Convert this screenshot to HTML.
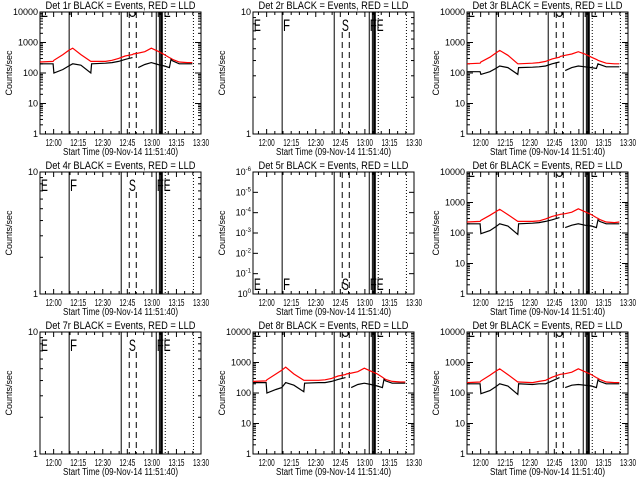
<!DOCTYPE html>
<html><head><meta charset="utf-8">
<style>
html,body{margin:0;padding:0;background:#fff;}
svg{display:block;font-family:"Liberation Sans",sans-serif;}
</style></head>
<body>
<svg id="chart" width="640" height="480" viewBox="0 0 640 480" xmlns="http://www.w3.org/2000/svg"></svg>
<script>
// ---- data (minutes after 11:51:40) ----
const times = [0,8,8.5,14,17.5,20,25,31,31.5,40,44,48,52,56.5,57,60,64,68,72,76,79,80,81,85,90,93];
const red1 = [230,240,260,400,550,650,400,240,240,240,260,300,360,400,420,450,500,650,520,400,320,300,280,230,220,220];
const black1 = [200,200,100,130,170,200,180,100,200,210,220,240,280,320,null,150,190,220,190,170,150,280,250,200,200,200];
const red3 = [200,210,230,330,450,550,380,200,200,210,220,240,290,330,350,380,420,500,420,330,280,260,250,210,200,200];
const black3 = [110,110,90,110,140,170,150,90,150,155,160,170,200,230,null,120,150,170,160,150,140,200,190,160,160,160];
const red6 = [230,240,260,380,500,600,400,240,240,240,250,290,350,400,410,430,480,620,500,400,320,300,280,230,220,230];
const black6 = [200,200,95,120,160,200,170,90,200,210,220,240,270,320,null,150,180,200,180,170,150,270,240,200,200,200];
const red8 = [240,250,270,420,560,700,420,260,260,260,270,300,360,400,420,450,500,650,520,420,330,300,280,240,230,230];
const black8 = [220,220,100,130,150,220,180,110,210,220,220,240,280,320,null,150,190,210,190,170,150,280,250,210,210,210];
const red9 = [220,230,250,380,520,620,400,230,230,220,240,260,330,400,410,430,480,620,500,400,320,300,280,230,220,220];
const black9 = [200,200,95,120,160,200,170,90,200,190,200,200,250,320,null,150,180,190,180,170,150,270,240,200,200,200];
const xTickLabels = ["12:00","12:15","12:30","12:45","13:00","13:15","13:30"];
const xTickMinutes = [8.33,23.33,38.33,53.33,68.33,83.33,98.33];
const solidLines = [17.8,49.6,71,72.9,74.7];
const thickLines = [74];
const dashedLines = [54.5,58.8];
const dottedLines = [76.5,93.7];
const letterNames = ["E","F","S","F","E"];
const letterMinutes = [0.5,18.3,54.3,71.3,75.5];
const detNames = ["1r","2r","3r","4r","5r","6r","7r","8r","9r"];

const NS="http://www.w3.org/2000/svg";
const svg=document.getElementById('chart');
function mk(tag,attrs,parent){const e=document.createElementNS(NS,tag);for(const k in attrs)e.setAttribute(k,attrs[k]);(parent||svg).appendChild(e);return e;}
const defs=mk('defs',{});

const panels=[
 {type:'data',red:red1,black:black1},
 {type:'lin10'},
 {type:'data',red:red3,black:black3},
 {type:'lin10'},
 {type:'neg'},
 {type:'data',red:red6,black:black6},
 {type:'lin10'},
 {type:'data',red:red8,black:black8},
 {type:'data',red:red9,black:black9}
];

panels.forEach((p,i)=>{
 const col=i%3,row=Math.floor(i/3);
 const ox=Math.round(col*213.33),oy=row*160;
 const L=ox+40,R=ox+201,T=oy+12,B=oy+134;
 const cp=mk('clipPath',{id:'clip'+i},defs);
 mk('rect',{x:L,y:T,width:R-L,height:B-T},cp);
 const g=mk('g',{});
 
 
 const xs=m=>L+(m/98.33)*(R-L);
 let ys;
 if(p.type==='data'){ys=v=>B-(Math.log10(v))/4*(B-T);}
 else {ys=v=>B-Math.log10(v)*(B-T);}
 // title
 const tt=mk('text',{x:(L+R)/2,y:T-3,'font-size':11,'text-anchor':'middle',fill:'#000',textLength:150,lengthAdjust:'spacingAndGlyphs'},g);
 tt.textContent='Det '+detNames[i]+' BLACK = Events, RED = LLD';
 
 
 // box
 const bx=mk('rect',{x:L,y:T,width:R-L,height:B-T,fill:'none',stroke:'#000','stroke-width':1},g);
 
 
 // x ticks
 for(let m=3.33;m<=98.4;m+=5){ const x=xs(m); const maj=Math.abs(((m-8.33)%15))<0.1; const len=maj?5:3;
   mk('line',{x1:x,y1:B,x2:x,y2:B-len,stroke:'#000'},g); mk('line',{x1:x,y1:T,x2:x,y2:T+len,stroke:'#000'},g);}
 xTickLabels.forEach((lab,k)=>{const t=mk('text',{x:xs(xTickMinutes[k]),y:B+12,'font-size':10,'text-anchor':'middle',textLength:16,lengthAdjust:'spacingAndGlyphs'},g);t.textContent=lab;
   
   });
 const xl=mk('text',{x:(L+R)/2,y:B+21,'font-size':10,'text-anchor':'middle',textLength:115,lengthAdjust:'spacingAndGlyphs'},g);xl.textContent='Start Time (09-Nov-14 11:51:40)';
 
 
 const yl=mk('text',{x:0,y:0,'font-size':9,'text-anchor':'middle',transform:`translate(${ox+12},${(T+B)/2}) rotate(-90)`},g);yl.textContent='Counts/sec';
 
 
 // y ticks
 if(p.type==='data'){
   for(let d=0;d<=4;d++){const y=ys(Math.pow(10,d));mk('line',{x1:L,y1:y,x2:L+6,y2:y,stroke:'#000'},g);mk('line',{x1:R,y1:y,x2:R-6,y2:y,stroke:'#000'},g);
     const t=mk('text',{x:L-2,y:y+3,'font-size':9,'text-anchor':'end'},g);t.textContent=String(Math.pow(10,d));
     
     
     if(d<4)for(let k=2;k<10;k++){const yy=ys(k*Math.pow(10,d));mk('line',{x1:L,y1:yy,x2:L+3,y2:yy,stroke:'#000'},g);mk('line',{x1:R,y1:yy,x2:R-3,y2:yy,stroke:'#000'},g);}}
 } else if(p.type==='lin10'){
   [1,10].forEach(v=>{const t=mk('text',{x:L-2,y:ys(v)+3,'font-size':9,'text-anchor':'end'},g);t.textContent=String(v);
     
     });
   for(let k=2;k<10;k++){const yy=ys(k);mk('line',{x1:L,y1:yy,x2:L+3,y2:yy,stroke:'#000'},g);mk('line',{x1:R,y1:yy,x2:R-3,y2:yy,stroke:'#000'},g);}
 } else {
   for(let d=0;d<=6;d++){const y=B-d*(B-T)/6;mk('line',{x1:L,y1:y,x2:L+5,y2:y,stroke:'#000'},g);mk('line',{x1:R,y1:y,x2:R-5,y2:y,stroke:'#000'},g);
     const t=mk('text',{x:L-2,y:y+3,'font-size':9,'text-anchor':'end'},g);t.textContent='10';
     const s=mk('tspan',{dy:-4,'font-size':6},t);s.textContent=d===0?'0':'-'+d;
     
     }
 }
 // vertical event lines
 solidLines.forEach(m=>{const l=mk('line',{x1:xs(m),y1:T,x2:xs(m),y2:B,stroke:'#000','stroke-width':1},g);
   
   });
 thickLines.forEach(m=>{const l=mk('line',{x1:xs(m),y1:T,x2:xs(m),y2:B,stroke:'#000','stroke-width':2},g);
   
   });
 dashedLines.forEach(m=>{const l=mk('line',{x1:xs(m),y1:p.type==='lin10'?T+20:T,x2:xs(m),y2:B,stroke:'#000','stroke-dasharray':'6,4'},g);
   
   });
 dottedLines.forEach(m=>{const l=mk('line',{x1:xs(m),y1:T,x2:xs(m),y2:B,stroke:'#000','stroke-dasharray':'1,2'},g);
   
   });
 // letters
 const ly=p.type==='data'?T+5:(p.type==='neg'?B-4:T+19);
 const lg=mk('g',{'clip-path':p.type==='data'?'url(#clip'+i+')':'none'},g);
 letterNames.forEach((ch,k)=>{const t=mk('text',{x:xs(letterMinutes[k]),y:ly,'font-size':17,textLength:7,lengthAdjust:'spacingAndGlyphs'},lg);t.textContent=ch;
   
   });
 // series
 if(p.type==='data'){
   [[p.red,'#ff0000','red-lld-series'],[p.black,'#000','black-events-series']].forEach(([arr,c,nm])=>{
     let d='',pen=false;
     arr.forEach((v,k)=>{if(v==null){pen=false;return;}d+=(pen?'L':'M')+xs(times[k]).toFixed(1)+','+ys(v).toFixed(1);pen=true;});
     const pa=mk('path',{d:d,fill:'none',stroke:c,'stroke-width':1.2},g);
     
     
   });
 }
});
</script>
</body></html>
